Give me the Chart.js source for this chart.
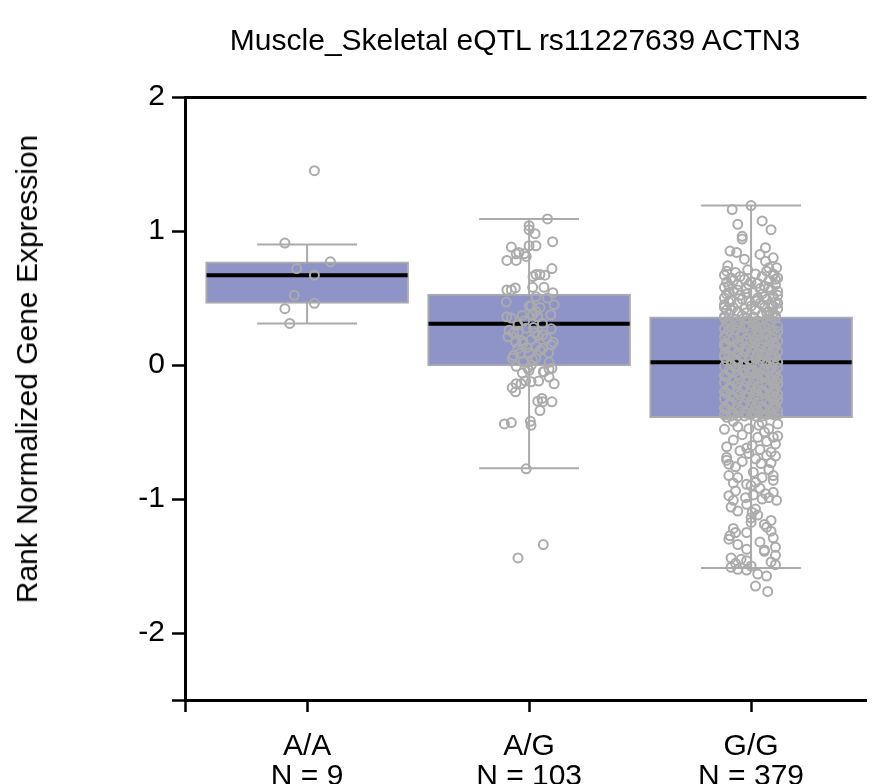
<!DOCTYPE html>
<html><head><meta charset="utf-8">
<script src="https://cdn.jsdelivr.net/npm/chart.js@4.4.0/dist/chart.umd.min.js"></script>
<style>
html,body{margin:0;padding:0;background:#fff;}
#wrap{position:relative;width:873px;height:784px;overflow:hidden;font-family:'Liberation Sans',Arial,sans-serif;color:#000;}
#c{position:absolute;left:0;top:0;}
#title{position:absolute;left:515px;top:23px;transform:translateX(-50%);font-size:30px;line-height:34px;white-space:nowrap;}
#ylab{position:absolute;left:27px;top:369px;transform:translate(-50%,-50%) rotate(-90deg);font-size:30px;line-height:34px;white-space:nowrap;}
</style>
</head><body>
<div id="wrap">
<canvas id="c" width="873" height="784"></canvas>
<div id="title">Muscle_Skeletal eQTL rs11227639 ACTN3</div>
<div id="ylab">Rank Normalized Gene Expression</div>
</div>
<script>
const categories = ['A/A', 'A/G', 'G/G'];
const sampleSizes = [9, 103, 379];
const whiskerHigh = [0.90, 1.09, 1.19];
const q3 = [0.77, 0.53, 0.36];
const medians = [0.67, 0.307, 0.02];
const q1 = [0.46, -0.007, -0.393];
const whiskerLow = [0.31, -0.77, -1.515];
const yTicks = [-2.5, -2, -1, 0, 1, 2];

// [value, horizontal jitter in category units]
const aaPoints = [[1.45,0.033],[0.91,-0.10],[0.77,0.105],[0.72,-0.047],[0.67,0.033],[0.52,-0.058],[0.42,-0.10],[0.46,0.033],[0.31,-0.078]];

const agPoints = [[1.09,0.083],[1.04,0.0],[1.01,0.0],[0.98,0.027],[0.92,0.106],[0.88,-0.08],[0.89,0.0],[0.89,0.031],[0.84,-0.046],[0.83,-0.022],[0.83,-0.058],[0.78,-0.10],[0.78,-0.058],[0.81,-0.013],[0.72,0.103],[0.675,0.031],[0.675,0.049],[0.67,0.071],[0.66,0.018],[0.56,-0.10],[0.575,-0.062],[0.56,-0.08],[0.58,0.016],[0.58,0.067],[0.54,0.107],[0.47,-0.103],[0.51,0.031],[0.50,0.083],[0.45,0.113],[0.44,0.009],[0.43,0.049],[0.36,-0.10],[0.37,-0.031],[0.375,0.016],[0.36,0.039],[0.375,0.098],[0.24,-0.07],[0.21,-0.095],[0.25,-0.046],[0.275,-0.013],[0.24,0.027],[0.225,0.061],[0.16,-0.028],[0.14,0.031],[0.17,0.109],[0.125,-0.05],[0.125,0.061],[0.09,0.0],[0.09,0.088],[0.05,-0.076],[0.04,0.016],[0.025,-0.026],[-0.025,0.103],[-0.01,-0.058],[-0.05,0.064],[-0.04,0.0],[-0.025,-0.006],[-0.05,0.068],[-0.03,0.09],[-0.09,0.09],[-0.14,0.113],[-0.17,-0.076],[-0.14,-0.058],[-0.14,-0.036],[-0.20,-0.061],[-0.12,-0.016],[-0.125,0.009],[-0.12,0.043],[-0.27,0.039],[-0.25,0.058],[-0.275,0.061],[-0.275,0.103],[-0.34,0.049],[-0.44,-0.111],[-0.43,-0.08],[-0.42,0.006],[-0.45,0.009],[-0.775,-0.013],[-1.34,0.064],[-1.44,-0.05],[-0.06,-0.03],
[0.30,-0.05],[0.28,0.02],[0.20,0.08],[0.18,-0.03],[0.11,0.05],[0.07,-0.07],[0.02,0.09],[0.19,0.01],[0.31,0.06],[0.26,-0.09],[0.13,-0.01],[0.05,0.03],[0.33,-0.02],[0.22,0.04],[0.15,0.10],[0.40,0.03],[0.35,-0.08],[0.09,-0.04],[0.27,0.10],[0.00,0.01],[0.17,-0.06],[0.44,0.0]];

const ggPoints = [
[1.19,0.0],[1.16,-0.085],[1.05,-0.06],[1.075,0.05],[1.01,0.09],[0.96,-0.04],[0.94,-0.04],[0.875,0.065],[0.85,-0.095],[0.84,-0.065],[0.825,0.04],[0.80,0.10],[0.79,-0.03],[0.775,0.065],[0.74,-0.105],[0.725,0.08],[0.725,0.115],[0.71,-0.015],
[0.70,-0.11],[0.69,-0.07],[0.68,0.02],[0.68,0.10],[0.67,-0.12],[0.66,0.05],[0.65,-0.09],[0.65,0.12],[0.64,-0.03],[0.63,0.08],[0.62,-0.11],[0.61,0.03],[0.60,-0.06],[0.60,0.11],[0.59,0.06],[0.58,-0.12],[0.57,-0.02],[0.56,0.09],[0.55,-0.08],[0.55,0.12],[0.54,0.01],[0.53,-0.11],[0.53,0.05],[0.52,-0.05],[0.51,0.10],[0.50,-0.12],[0.50,0.03],[0.49,0.07],[0.48,-0.09],[0.48,-0.01],[0.47,0.11],[0.46,-0.06],[0.46,0.04],[0.45,-0.12],[0.45,0.09],[0.44,0.00],[0.43,-0.08],[0.43,0.06],[0.42,-0.03],[0.42,0.12],[0.41,-0.11],[0.41,0.02],[0.40,0.08],[0.40,-0.06],[0.39,0.10],[0.39,-0.02],[0.38,-0.10],[0.38,0.05],[0.37,-0.04],[0.37,0.11],[0.36,0.01],[0.36,-0.12],[0.62,0.0],[0.57,0.04],[0.52,0.12],[0.47,-0.10],[0.44,0.10],[0.58,0.08],[0.63,-0.08],[0.66,-0.05],[0.70,0.07],[0.54,-0.10],[0.49,-0.04],[0.41,-0.09],[0.39,0.07],[0.67,0.10],[0.60,-0.01],[0.51,0.06],[0.46,0.12],[0.43,-0.12],[0.56,-0.06],[0.64,0.11],[0.48,0.02],[0.53,-0.02],[0.59,-0.10],[0.45,0.05],[0.37,0.08],
[0.35,-0.12],[0.34,-0.07],[0.35,-0.02],[0.33,0.03],[0.34,0.07],[0.35,0.11],[0.33,-0.10],[0.32,0.01],[0.33,0.09],[0.32,-0.05],
[0.31,-0.11],[0.30,-0.06],[0.29,-0.01],[0.31,0.04],[0.30,0.08],[0.29,0.12],[0.28,-0.09],[0.30,0.02],[0.28,0.06],[0.29,-0.03],
[0.27,-0.12],[0.26,-0.07],[0.25,0.00],[0.27,0.05],[0.26,0.10],[0.24,-0.04],[0.25,0.12],[0.24,0.07],[0.26,-0.10],[0.25,0.03],
[0.23,-0.11],[0.22,-0.05],[0.21,0.01],[0.23,0.06],[0.22,0.11],[0.20,-0.08],[0.21,0.09],[0.20,-0.02],[0.22,0.03],[0.21,-0.12],
[0.19,-0.10],[0.18,-0.04],[0.17,0.02],[0.19,0.07],[0.18,0.12],[0.16,-0.12],[0.17,0.05],[0.16,-0.06],[0.18,0.00],[0.17,0.10],
[0.15,-0.11],[0.14,-0.05],[0.13,0.01],[0.15,0.08],[0.14,0.11],[0.12,-0.08],[0.13,0.04],[0.12,-0.02],[0.14,-0.12],[0.12,0.10],
[0.11,-0.09],[0.10,-0.03],[0.09,0.03],[0.11,0.07],[0.10,0.12],[0.08,-0.12],[0.09,-0.06],[0.08,0.09],[0.10,0.00],[0.08,0.05],
[0.07,-0.10],[0.06,-0.04],[0.05,0.02],[0.07,0.06],[0.06,0.11],[0.04,-0.07],[0.05,0.09],[0.04,-0.01],[0.06,-0.12],[0.04,0.04],
[0.03,-0.11],[0.02,-0.06],[0.01,0.00],[0.03,0.05],[0.02,0.10],[0.00,-0.09],[0.01,0.07],[0.00,-0.03],[0.02,0.12],[0.00,0.03],
[-0.01,-0.12],[-0.02,-0.07],[-0.03,-0.01],[-0.01,0.04],[-0.02,0.09],[-0.04,-0.10],[-0.03,0.06],[-0.04,0.01],[-0.02,0.12],[-0.04,-0.04],
[-0.05,-0.09],[-0.06,-0.03],[-0.07,0.03],[-0.05,0.08],[-0.06,0.11],[-0.08,-0.12],[-0.07,-0.06],[-0.08,0.05],[-0.06,0.00],[-0.08,0.10],
[-0.09,-0.11],[-0.10,-0.05],[-0.11,0.01],[-0.09,0.06],[-0.10,0.12],[-0.12,-0.08],[-0.11,0.09],[-0.12,-0.02],[-0.10,0.03],[-0.12,0.11],
[-0.13,-0.12],[-0.14,-0.06],[-0.15,0.00],[-0.13,0.05],[-0.14,0.10],[-0.16,-0.09],[-0.15,0.07],[-0.16,-0.03],[-0.14,0.12],[-0.16,0.03],
[-0.17,-0.10],[-0.18,-0.04],[-0.19,0.02],[-0.17,0.08],[-0.18,0.11],[-0.20,-0.12],[-0.19,0.05],[-0.20,-0.06],[-0.18,0.00],[-0.20,0.10],
[-0.21,-0.11],[-0.22,-0.05],[-0.23,0.01],[-0.21,0.06],[-0.22,0.12],[-0.24,-0.08],[-0.23,0.09],[-0.24,-0.02],[-0.22,0.03],[-0.24,0.11],
[-0.25,-0.12],[-0.26,-0.06],[-0.27,0.00],[-0.25,0.05],[-0.26,0.10],[-0.28,-0.09],[-0.27,0.07],[-0.28,-0.03],[-0.26,0.12],[-0.28,0.03],
[-0.29,-0.10],[-0.30,-0.04],[-0.31,0.02],[-0.29,0.08],[-0.30,0.11],[-0.32,-0.12],[-0.31,0.05],[-0.32,-0.06],[-0.30,0.00],[-0.32,0.10],
[-0.33,-0.11],[-0.34,-0.05],[-0.35,0.01],[-0.33,0.06],[-0.34,0.12],[-0.36,-0.08],[-0.35,0.09],[-0.36,-0.02],[-0.34,0.03],
[-0.37,-0.12],[-0.38,-0.06],[-0.37,0.00],[-0.38,0.05],[-0.37,0.10],[-0.38,-0.09],[-0.37,0.07],[-0.38,-0.03],[-0.37,0.12],[-0.38,0.02],
[-0.39,-0.11],[-0.46,-0.06],[-0.475,-0.01],[-0.45,0.035],[-0.475,0.08],[-0.54,0.03],[-0.54,0.10],[-0.61,-0.11],[-0.59,0.11],[-0.60,0.005],[-0.69,-0.11],[-0.66,-0.01],[-0.675,0.07],[-0.71,-0.11],[-0.73,0.09],[-0.825,-0.10],[-0.84,-0.06],[-0.89,-0.02],[-0.875,0.02],[-0.84,0.05],[-0.825,0.10],[-0.975,-0.10],[-1.01,-0.08],[-1.09,-0.06],[-0.99,-0.025],[-0.96,0.065],[-0.95,0.10],[-1.01,0.115],[-0.99,0.08],[-1.10,0.005],[-1.175,0.00],[-1.19,0.06],[-1.24,0.09],[-1.29,0.10],[-1.275,-0.095],[-1.25,-0.07],[-1.34,-0.06],[-1.25,-0.02],[-1.36,0.11],[-1.38,0.06],[-1.375,-0.02],[-1.51,-0.09],[-1.45,-0.045],[-1.525,-0.06],[-1.46,-0.02],[-1.49,0.11],[-1.56,0.03],[-1.575,0.07],[-1.65,0.02],[-1.69,0.075],
[-0.42,-0.08],[-0.43,0.05],[-0.44,0.12],[-0.48,-0.12],[-0.50,0.06],[-0.52,-0.04],[-0.56,-0.08],[-0.57,0.07],[-0.63,0.04],[-0.64,-0.05],[-0.65,0.09],[-0.70,0.02],[-0.72,-0.04],[-0.735,0.045],[-0.76,-0.07],[-0.78,0.08],[-0.80,0.01],[-0.86,0.10],[-0.88,-0.08],[-0.92,0.04],[-0.94,-0.07],[-0.97,0.01],[-1.00,0.05],[-1.04,-0.02],[-1.075,0.02],[-1.12,0.03],[-1.14,0.00],[-1.16,0.09],[-1.21,0.07],[-1.22,-0.08],[-1.30,-0.10],[-1.32,0.04],[-1.39,0.06],[-1.42,0.11],[-1.44,-0.09],[-1.47,0.09],[-1.50,0.00],[-1.53,-0.02],[-1.48,-0.07],[-0.53,0.12],[-0.62,-0.02],[-0.68,0.11],[-0.74,-0.10],[-0.90,0.00],[-1.06,-0.09]
];

const groupPoints = [aaPoints, agPoints, ggPoints];

// style constants
const capHalf = 0.225;
const boxHalf = 0.453;
const boxPx = 203;
const boxFill = '#8e93c8';
const grey = '#ababab';
const FONT = "'Liberation Sans', Arial, sans-serif";

Chart.defaults.font.family = FONT;
Chart.defaults.color = '#000';

const whiskerData = [];
const medianData = [];
categories.forEach((c, i) => {
  whiskerData.push({x: i - capHalf, y: whiskerHigh[i]}, {x: i + capHalf, y: whiskerHigh[i]}, {x: i, y: null});
  whiskerData.push({x: i, y: whiskerHigh[i]}, {x: i, y: whiskerLow[i]}, {x: i, y: null});
  whiskerData.push({x: i - capHalf, y: whiskerLow[i]}, {x: i + capHalf, y: whiskerLow[i]}, {x: i, y: null});
  medianData.push({x: i - boxHalf, y: medians[i]}, {x: i + boxHalf, y: medians[i]}, {x: i, y: null});
});
const boxData = categories.map((c, i) => ({x: i, y: [q1[i], q3[i]]}));
const pointData = [];
groupPoints.forEach((pts, i) => pts.forEach(p => pointData.push({x: i + p[1], y: p[0]})));

new Chart(document.getElementById('c'), {
  type: 'bar',
  data: {
    datasets: [
      {type: 'scatter', data: pointData, order: 0, pointRadius: 4.5, pointBorderWidth: 2,
       pointBorderColor: grey, pointBackgroundColor: 'rgba(0,0,0,0)', showLine: false},
      {type: 'line', data: medianData, order: 1, borderColor: '#000', borderWidth: 4,
       pointRadius: 0, spanGaps: false, fill: false},
      {type: 'bar', data: boxData, order: 2, backgroundColor: boxFill, borderColor: grey,
       borderWidth: 2, borderSkipped: false, barThickness: boxPx, grouped: false},
      {type: 'line', data: whiskerData, order: 3, borderColor: grey, borderWidth: 2,
       pointRadius: 0, spanGaps: false, fill: false}
    ]
  },
  options: {
    responsive: false,
    animation: false,
    events: [],
    layout: {padding: {top: 97, left: 0, right: 0, bottom: 0}},
    plugins: {legend: {display: false}, tooltip: {enabled: false}, title: {display: false}},
    scales: {
      x: {
        type: 'linear', min: -0.55, max: 2.52, offset: false,
        afterBuildTicks: s => { s.ticks = [-0.55, 0, 1, 2].map(v => ({value: v})); },
        afterFit: s => { s.height = 84; },
        ticks: {
          autoSkip: false, maxRotation: 0, minRotation: 0, padding: 20,
          font: {size: 30, lineHeight: '30px'}, color: '#000',
          callback: v => (Number.isInteger(v) && v >= 0 && v < categories.length)
            ? [categories[v], 'N = ' + sampleSizes[v]] : ''
        },
        grid: {offset: false, drawOnChartArea: false, drawTicks: true, tickLength: 12, tickWidth: 2.5, tickColor: '#000', color: '#000'},
        border: {display: true, color: '#000', width: 3}
      },
      y: {
        type: 'linear', min: -2.5, max: 2,
        afterBuildTicks: s => { s.ticks = yTicks.map(v => ({value: v})); },
        afterFit: s => { s.width = 185; },
        ticks: {
          padding: 7, font: {size: 30}, color: '#000',
          callback: v => (Number.isInteger(v) ? String(v) : '')
        },
        grid: {
          drawTicks: true, tickLength: 13, tickWidth: 2.5, tickColor: '#000',
          color: ctx => (ctx.tick && ctx.tick.value === 2) ? '#000' : 'rgba(0,0,0,0)',
          lineWidth: 3
        },
        border: {display: true, color: '#000', width: 3}
      }
    }
  }
});
</script>
</body></html>
